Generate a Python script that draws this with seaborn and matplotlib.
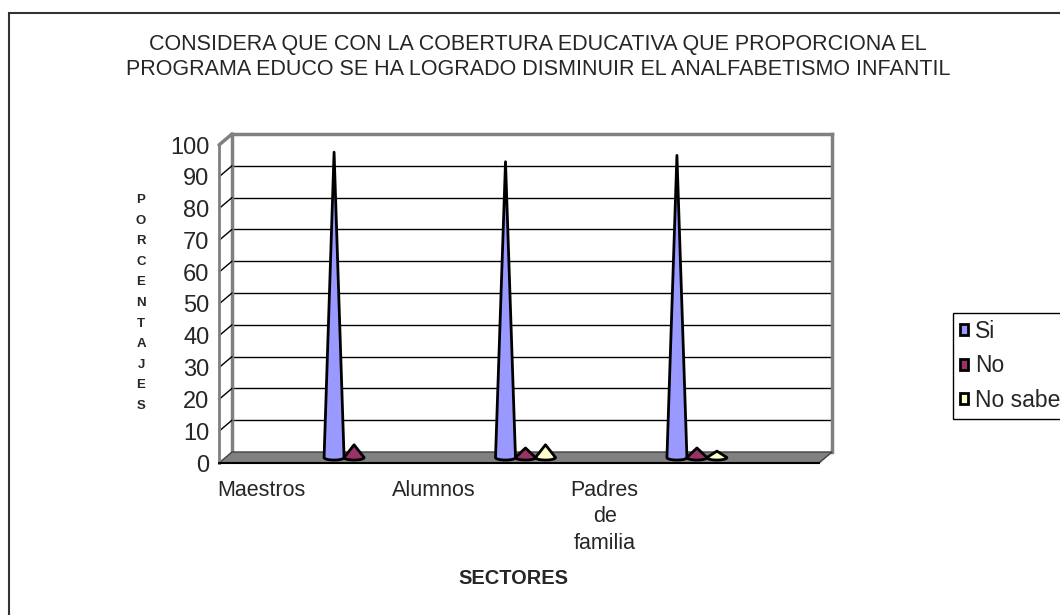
import numpy as np
import pandas as pd
import matplotlib
matplotlib.use('Agg')
import matplotlib.pyplot as plt
from matplotlib.patches import Polygon, Patch, Rectangle
from matplotlib.lines import Line2D
import seaborn as sns

# Datos
sectores = ['Maestros', 'Alumnos', 'Padres\nde\nfamilia']
series = ['Si', 'No', 'No sabe']
si = [96, 93, 95]
no = [4, 3, 3]
no_sabe = [0, 4, 2]
colores = ['#9999FF', '#993366', '#FFFFCC']
yticks = list(range(0, 101, 10))
titulo = ('CONSIDERA QUE CON LA COBERTURA EDUCATIVA QUE PROPORCIONA EL\n'
          'PROGRAMA EDUCO SE HA LOGRADO DISMINUIR EL ANALFABETISMO INFANTIL')

df = pd.DataFrame({'sector': sectores * 3,
                   'serie': [s for s in series for _ in sectores],
                   'valor': si + no + no_sabe})

# Excel deja un hueco entre cada sector: etiqueta en un hueco, conos en el siguiente
orden = []
for s in sectores:
    orden += ['_' + s, s]
orden.append('_fin')

sns.set_style('white')
plt.rcParams['font.family'] = ['Liberation Sans', 'DejaVu Sans']

W, H = 1060, 615
fig = plt.figure(figsize=(W / 100, H / 100), dpi=100)


def ejes(x0, x1, y0, y100, z):
    ax = fig.add_axes([x0 / W, 1 - y0 / H, (x1 - x0) / W, (y0 - y100) / H], zorder=z)
    return ax


ax_back = ejes(232, 832, 452, 134, 0)
ax_mid = ejes(225.5, 825.5, 457.5, 139.5, 1)
ax_front = ejes(219, 819, 463, 145, 2)

# conos (barras de seaborn convertidas a conos)
sns.barplot(data=df, x='sector', y='valor', hue='serie', order=orden,
            hue_order=series, palette=colores, width=0.7, saturation=1,
            errorbar=None, legend=False, ax=ax_mid)

for b in list(ax_mid.patches):
    x, w, h = b.get_x(), b.get_width(), b.get_height()
    color = b.get_facecolor()
    b.remove()
    if h <= 0:
        continue
    xc, a = x + w / 2, w / 2
    t = np.linspace(0, -np.pi, 40)
    pts = [(xc, h)] + list(zip(xc + a * np.cos(t), 0.8 * np.sin(t)))
    ax_mid.add_patch(Polygon(pts, closed=True, facecolor=color, edgecolor='black',
                             lw=2, joinstyle='round', clip_on=False))

for ax in (ax_back, ax_mid, ax_front):
    ax.set_xlim(-0.5, len(orden) - 0.5)
    ax.set_ylim(0, 100)
    ax.set_xlabel('')
    ax.set_ylabel('')

# pared del fondo
ax_back.set_facecolor('white')
ax_back.set_yticks(yticks[1:-1])
ax_back.set_xticks([])
ax_back.tick_params(left=False, labelleft=False)
ax_back.yaxis.grid(True, color='black', lw=1)
for k in ('top', 'right', 'left'):
    ax_back.spines[k].set_color('#808080')
    ax_back.spines[k].set_linewidth(2.5)
ax_back.spines['bottom'].set_visible(False)

# capa media transparente
ax_mid.patch.set_visible(False)
ax_mid.axis('off')

# ejes delanteros
ax_front.patch.set_visible(False)
ax_front.spines['top'].set_visible(False)
ax_front.spines['right'].set_visible(False)
ax_front.spines['left'].set_color('#808080')
ax_front.spines['left'].set_linewidth(2)
ax_front.spines['bottom'].set_color('black')
ax_front.spines['bottom'].set_linewidth(1.5)
ax_front.set_yticks(yticks)
ax_front.tick_params(axis='y', length=5, width=1, color='black', labelsize=17, pad=2)
ax_front.set_xticks(np.arange(-0.5, len(orden), 1))
ax_front.set_xticklabels([])
ax_front.tick_params(axis='x', which='major', length=8, width=1, color='black')
ax_front.set_xticks([orden.index('_' + s) for s in sectores], minor=True)
ax_front.set_xticklabels(sectores, minor=True, fontsize=15.5, linespacing=1.35)
ax_front.tick_params(axis='x', which='minor', length=0, pad=12)

# suelo y pared izquierda en 3D
inv = fig.transFigure.inverted()


def p(ax, x, y):
    return inv.transform(ax.transData.transform((x, y)))


x0, x1 = -0.5, len(orden) - 0.5
suelo = [p(ax_front, x0, 0), p(ax_front, x1, 0), p(ax_back, x1, 0), p(ax_back, x0, 0)]
fig.add_artist(Polygon(suelo, closed=True, transform=fig.transFigure,
                       facecolor='#808080', edgecolor='#404040', lw=1, zorder=0.5))
for v in yticks[1:]:
    a, b = p(ax_front, x0, v), p(ax_back, x0, v)
    fig.add_artist(Line2D([a[0], b[0]], [a[1], b[1]], transform=fig.transFigure,
                          color='#808080' if v == 100 else 'black',
                          lw=2.5 if v == 100 else 1, zorder=0.6))

# textos
fig.text(538 / W, 1 - 57 / H, titulo, ha='center', va='center', fontsize=15.5,
         linespacing=1.25)
fig.text(141 / W, 1 - 303 / H, '\n'.join('PORCENTAJES'), ha='center', va='center',
         fontsize=9.5, fontweight='bold', linespacing=1.95)
fig.text(513 / W, 1 - 579 / H, 'SECTORES', ha='center', va='center', fontsize=14.4,
         fontweight='bold')

# leyenda
handles = [Patch(facecolor=c, edgecolor='black', lw=2) for c in colores]
leg = fig.legend(handles, series, loc='upper left', bbox_to_anchor=(953 / W, 1 - 313 / H),
                 frameon=True, fancybox=False, edgecolor='black', framealpha=1,
                 fontsize=16.5, handlelength=0.35, handleheight=0.35, handletextpad=0.3,
                 labelspacing=0.5, borderpad=0.3, borderaxespad=0)
leg.get_frame().set_linewidth(1)

# marco exterior
fig.add_artist(Rectangle((9 / W, -0.1), 1.2, 1.1 - 13 / H, transform=fig.transFigure,
                         fill=False, edgecolor='#333333', lw=1.5, zorder=5))

fig.savefig('out.png', dpi=100, facecolor='white')
